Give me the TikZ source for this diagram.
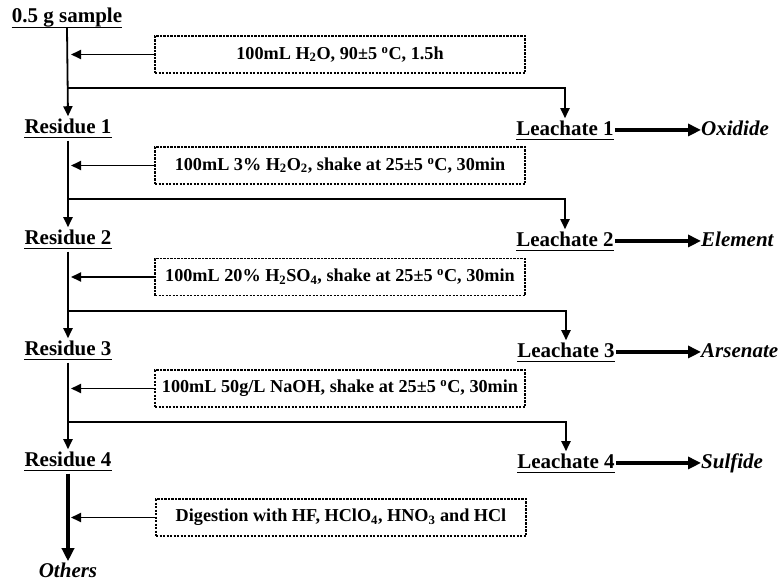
\documentclass[tikz,border=0pt]{standalone}
\usepackage{fontspec}
\setmainfont{Liberation Serif}
\usetikzlibrary{arrows.meta,calc}
\begin{document}
\begin{tikzpicture}[x=1pt,y=-1pt,
 lab/.style={font=\fontsize{21}{24}\selectfont\bfseries, inner sep=0pt, text depth=4.5pt, anchor=base},
 res/.style={font=\fontsize{21}{24}\selectfont\bfseries\itshape, inner sep=0pt, anchor=base west},
 cond/.style={draw, dash pattern=on 2.2pt off 1.3pt, line width=1.1pt, minimum width=370pt, minimum height=37pt, inner sep=0pt, font=\fontsize{18.2}{20}\selectfont\bfseries},
 uline/.style={line width=1.4pt},
 arr/.style={line width=1.8pt, -{Triangle[length=10pt,width=9pt]}},
 tarr/.style={line width=3.4pt, -{Triangle[length=13pt,width=12pt]}}]
\useasboundingbox (0,0) rectangle (782,581);

\node[lab, text depth=5pt] (S) at (67,22) {0.5 g sample};
\node[lab] (R1) at (68,133) {Residue 1};
\node[lab] (R2) at (68,244) {Residue 2};
\node[lab] (R3) at (68,355) {Residue 3};
\node[lab] (R4) at (68,466) {Residue 4};

\node[lab] (L1) at (565,135) {Leachate 1};
\node[lab] (L2) at (565,246) {Leachate 2};
\node[lab] (L3) at (566,357) {Leachate 3};
\node[lab] (L4) at (566,468) {Leachate 4};

\foreach \n in {S,R1,R2,R3,R4,L1,L2,L3,L4}
  \draw[uline] (\n.south west) -- (\n.south east);

\node[res] (O1) at (701,135) {Oxidide};
\node[res] (O2) at (701,246) {Element};
\node[res] (O3) at (701,357) {Arsenate};
\node[res] (O4) at (701,468) {Sulfide};
\node[res, anchor=base] (OT) at (68,577) {Others};

\node[cond] (C1) at (340,54.5) {100mL H\textsubscript{2}O, 90±5 \textsuperscript{o}C, 1.5h};
\node[cond] (C2) at (340,165.5) {100mL 3\% H\textsubscript{2}O\textsubscript{2}, shake at 25±5 \textsuperscript{o}C, 30min};
\node[cond] (C3) at (340,277) {100mL 20\% H\textsubscript{2}SO\textsubscript{4}, shake at 25±5 \textsuperscript{o}C, 30min};
\node[cond] (C4) at (340,388.5) {100mL 50g/L NaOH, shake at 25±5 \textsuperscript{o}C, 30min};
\node[cond] (C5) at (341,517.5) {Digestion with HF, HClO\textsubscript{4}, HNO\textsubscript{3} and HCl};

% trunk points
\coordinate (b1) at (68,88);
\coordinate (b2) at (68,199);
\coordinate (b3) at (68,311);
\coordinate (b4) at (68,422);
\coordinate (a1) at (71,54.5);
\coordinate (a2) at (71,165.5);
\coordinate (a3) at (71,277);
\coordinate (a4) at (71,388.5);
\coordinate (a5) at (71,517.5);

% main trunk
\draw[arr] ([yshift=-1pt]S.south) -- ([yshift=2pt]R1.north);
\draw[arr] ([yshift=-3pt]R1.south) -- ([yshift=2pt]R2.north);
\draw[arr] ([yshift=-3pt]R2.south) -- ([yshift=2pt]R3.north);
\draw[arr] ([yshift=-3pt]R3.south) -- ([yshift=2pt]R4.north);
\draw[tarr] ([yshift=-3pt]R4.south) -- ([yshift=1pt]OT.north);

% branches to leachates
\draw[arr] (b1) -| ([yshift=2pt]L1.north);
\draw[arr] (b2) -| ([yshift=2pt]L2.north);
\draw[arr] (b3) -| ([yshift=2pt]L3.north);
\draw[arr] (b4) -| ([yshift=2pt]L4.north);

% reagent arrows
\draw[arr] (C1.west) -- (a1);
\draw[arr] (C2.west) -- (a2);
\draw[arr] (C3.west) -- (a3);
\draw[arr] (C4.west) -- (a4);
\draw[arr] (C5.west) -- (a5);

% leachate outcomes
\draw[tarr] ([xshift=1pt]L1.east) -- (O1.west |- L1.east);
\draw[tarr] ([xshift=1pt]L2.east) -- (O2.west |- L2.east);
\draw[tarr] ([xshift=1pt]L3.east) -- (O3.west |- L3.east);
\draw[tarr] ([xshift=1pt]L4.east) -- (O4.west |- L4.east);
\end{tikzpicture}
\end{document}
